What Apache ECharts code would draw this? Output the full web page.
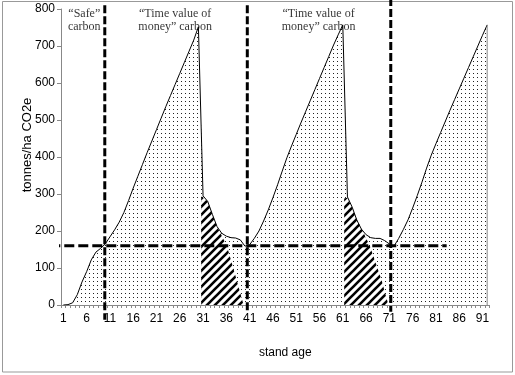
<!DOCTYPE html>
<html>
<head>
<meta charset="utf-8">
<script src="https://cdn.jsdelivr.net/npm/echarts@6/dist/echarts.min.js"></script>
<style>
  html, body { margin: 0; padding: 0; background: #fff; }
  #container { width: 515px; height: 375px; }
</style>
</head>
<body>
<div id="container"></div>
<script>
var dom = document.getElementById("container");
var chart = echarts.init(dom, null, { renderer: "canvas" });

// stand age 1..92
const ages = [];
for (let a = 1; a <= 92; a++) ages.push(String(a));

// tonnes/ha CO2e
const carbon = [
    0, 1, 6, 28, 62, 90, 122, 143, 153, 165,
    184, 203, 224, 250, 282, 316, 348, 380, 412, 443,
    474, 505, 536, 566, 596, 626, 656, 686, 716, 752,
    295, 280, 245, 212, 194, 186, 182, 181, 176, 159,
    163, 180, 200, 227, 257, 290, 325, 362, 398, 430,
    461, 492, 522, 552, 582, 612, 642, 672, 702, 730,
    757, 292, 265, 230, 205, 190, 182, 180, 180, 174,
    165, 159, 180, 204, 230, 262, 296, 332, 370, 405,
    436, 466, 496, 526, 555, 584, 613, 642, 671, 700,
    729, 757
];

// hatched "time value of money" carbon, [age, tonnes]
const hatch1 = [[30.6, 295], [31, 295], [32, 280], [33, 245], [34, 212], [34.4, 202], [36.1, 160], [38.2, 68], [39.7, 0]];
const hatch2 = [[61.3, 288], [62, 290], [63, 262], [64, 232], [65, 207], [66.8, 160], [69.3, 68], [70.8, 0]];

// reference lines
const threshold = 160;
const thresholdSpan = [-1.8, 83.3];
const rotationAges = [9.9, 40.5, 71.3];
const rotationSpans = [[810, -40], [810, -16], [830, -18]];

const notes = [
    { value: [5.5, 770], name: "\u201cSafe\u201d\ncarbon" },
    { value: [25.0, 770], name: "\u201cTime value of\nmoney\u201d carbon" },
    { value: [55.8, 770], name: "\u201cTime value of\nmoney\u201d carbon" }
];

function dotPattern() {
    var c = document.createElement("canvas");
    c.width = 4; c.height = 4;
    var ctx = c.getContext("2d");
    ctx.fillStyle = "#fff";
    ctx.fillRect(0, 0, 4, 4);
    ctx.fillStyle = "#222";
    ctx.fillRect(1, 1, 1, 1);
    return c;
}

function hatchPattern() {
    var c = document.createElement("canvas");
    c.width = 8; c.height = 8;
    var ctx = c.getContext("2d");
    ctx.fillStyle = "#fff";
    ctx.fillRect(0, 0, 8, 8);
    ctx.strokeStyle = "#000";
    ctx.lineWidth = 2.6;
    ctx.beginPath();
    ctx.moveTo(-2, 10); ctx.lineTo(10, -2);
    ctx.moveTo(-2, 2); ctx.lineTo(2, -2);
    ctx.moveTo(6, 10); ctx.lineTo(10, 6);
    ctx.stroke();
    return c;
}

const dots = { image: dotPattern(), repeat: "repeat" };
const stripes = { image: hatchPattern(), repeat: "repeat" };

const lastAge = ages.length;
const lastVal = carbon[carbon.length - 1];

var series = [
    {
        type: "line",
        xAxisIndex: 0,
        data: carbon,
        symbol: "none",
        lineStyle: { width: 0 },
        areaStyle: { color: dots, opacity: 1 },
        z: 1
    },
    {
        type: "line",
        xAxisIndex: 1,
        data: hatch1,
        symbol: "none",
        lineStyle: { width: 0 },
        areaStyle: { color: stripes, opacity: 1 },
        z: 2
    },
    {
        type: "line",
        xAxisIndex: 1,
        data: hatch2,
        symbol: "none",
        lineStyle: { width: 0 },
        areaStyle: { color: stripes, opacity: 1 },
        z: 2
    },
    {
        type: "line",
        xAxisIndex: 0,
        data: carbon,
        symbol: "none",
        lineStyle: { color: "#000", width: 1 },
        z: 3
    },
    {
        type: "line",
        xAxisIndex: 1,
        data: [[lastAge, 0], [lastAge, lastVal]],
        symbol: "none",
        lineStyle: { color: "#888", width: 1 },
        z: 3
    },
    {
        type: "line",
        xAxisIndex: 1,
        clip: false,
        data: [[thresholdSpan[0], threshold], [thresholdSpan[1], threshold]],
        symbol: "none",
        lineStyle: { color: "#000", width: 3, type: [10, 4], cap: "butt" },
        z: 5
    }
];

rotationAges.forEach(function (age, i) {
    series.push({
        type: "line",
        xAxisIndex: 1,
        clip: false,
        data: [[age, rotationSpans[i][0]], [age, rotationSpans[i][1]]],
        symbol: "none",
        lineStyle: { color: "#000", width: 3, type: [8, 3], cap: "butt" },
        z: 5
    });
});

series.push({
    type: "scatter",
    xAxisIndex: 1,
    data: notes,
    symbolSize: 1,
    itemStyle: { color: "rgba(0,0,0,0)" },
    clip: false,
    label: {
        show: true,
        position: "inside",
        formatter: "{b}",
        fontFamily: "Liberation Serif",
        fontSize: 12,
        lineHeight: 13.5,
        color: "#000",
        align: "center",
        verticalAlign: "middle"
    },
    z: 6
});

var option = {
    animation: false,
    backgroundColor: "#fff",
    textStyle: { fontFamily: "Liberation Sans" },
    grid: {
        left: 61,
        right: 25.5,
        top: 9,
        bottom: 70
    },
    xAxis: [
        {
            type: "category",
            data: ages,
            boundaryGap: true,
            axisLine: { lineStyle: { color: "#888", width: 1 } },
            axisTick: { show: true, interval: 0, length: 3, lineStyle: { color: "#888" } },
            axisLabel: { interval: 4, margin: 8, fontSize: 12, color: "#000", fontFamily: "Liberation Sans" },
            splitLine: { show: false },
            name: "stand age",
            nameLocation: "middle",
            nameGap: 42,
            nameMoveOverlap: false,
            nameTextStyle: { fontSize: 12, color: "#000", fontFamily: "Liberation Sans", padding: [0, 0, 0, 20] }
        },
        {
            type: "value",
            min: 0.5,
            max: 92.5,
            show: false,
            splitLine: { show: false }
        }
    ],
    yAxis: {
        type: "value",
        min: 0,
        max: 800,
        interval: 100,
        axisLine: { show: true, lineStyle: { color: "#888", width: 1 } },
        axisTick: { show: true, length: 4, lineStyle: { color: "#888" } },
        axisLabel: { margin: 6, fontSize: 12, color: "#000", fontFamily: "Liberation Sans" },
        splitLine: { show: false },
        name: "tonnes/ha CO2e",
        nameLocation: "middle",
        nameRotate: 90,
        nameGap: 27,
        nameMoveOverlap: false,
        nameTextStyle: { fontSize: 13, color: "#000", fontFamily: "Liberation Sans", padding: [0, 0, 0, 24] }
    },
    graphic: [
        {
            type: "rect",
            shape: { x: 2.5, y: 1.5, width: 510, height: 370.5 },
            style: { fill: null, stroke: "#999", lineWidth: 1 },
            silent: true,
            z: 0
        }
    ],
    series: series
};

chart.setOption(option);
</script>
</body>
</html>
